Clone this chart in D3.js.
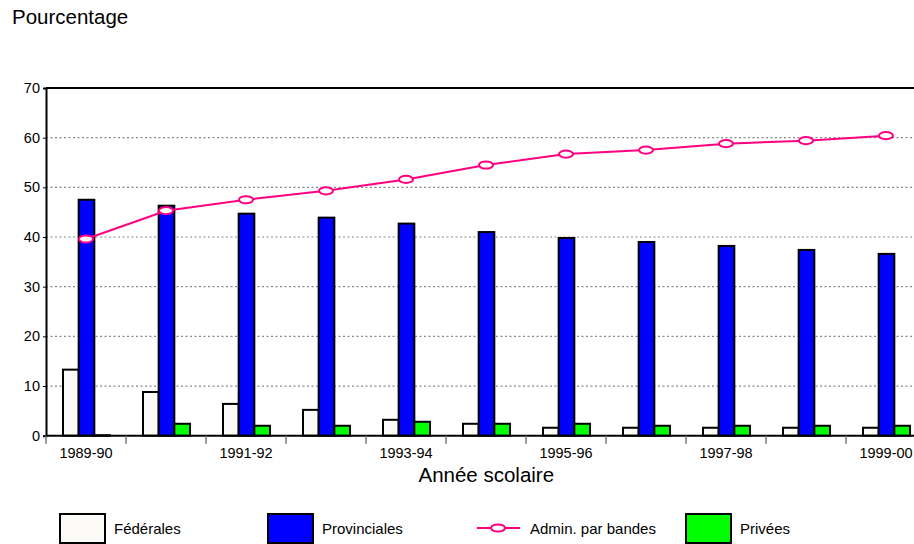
<!DOCTYPE html>
<html><head><meta charset="utf-8">
<script src="https://cdn.jsdelivr.net/npm/d3@7"></script>
<style>body{margin:0;background:#fff}svg{display:block;font-family:"Liberation Sans",Arial,sans-serif}</style>
</head><body><svg id="c" width="914" height="544"></svg>
<script>
const categories = ["1989-90","1990-91","1991-92","1992-93","1993-94","1994-95","1995-96","1996-97","1997-98","1998-99","1999-00"];
const federales = [13.3, 8.8, 6.4, 5.2, 3.2, 2.4, 1.6, 1.6, 1.6, 1.6, 1.6];
const provinciales = [47.5, 46.3, 44.7, 43.9, 42.7, 41.0, 39.8, 39.0, 38.2, 37.4, 36.6];
const privees = [0.1, 2.4, 2.0, 2.0, 2.8, 2.4, 2.4, 2.0, 2.0, 2.0, 2.0];
const admin = [39.6, 45.3, 47.5, 49.3, 51.6, 54.5, 56.7, 57.5, 58.8, 59.4, 60.4];
const yTicks = [0,10,20,30,40,50,60,70];
const seriesNames = ["Fédérales","Provinciales","Admin. par bandes","Privées"];

(function(){
const svg = d3.select("#c");
const mLeft = 46, mTop = 88, mBottom = 435.7, mRight = 926;
const x = d3.scaleBand().domain(categories).range([mLeft, mRight]).padding(0);
const x1 = d3.scaleBand().domain(["f","p","v"]).range([17, 64]).padding(0);
const y = d3.scaleLinear().domain([0,70]).range([mBottom, mTop]);

// gridlines
svg.append("g").selectAll("line").data(yTicks.filter(t=>t>0 && t<70)).join("line")
  .attr("x1", mLeft).attr("x2", 914).attr("y1", d=>y(d)).attr("y2", d=>y(d))
  .attr("stroke","#888").attr("stroke-width",1.2).attr("stroke-dasharray","2,2.5");

// top border
svg.append("line").attr("x1",mLeft).attr("x2",914).attr("y1",y(70)).attr("y2",y(70)).attr("stroke","#000").attr("stroke-width",2);

// y axis
const yAxis = svg.append("g").attr("transform",`translate(${mLeft},0)`)
  .call(d3.axisLeft(y).tickValues(yTicks).tickSize(3).tickPadding(3));
yAxis.select(".domain").attr("stroke","#000").attr("stroke-width",2);
yAxis.selectAll("text").attr("font-size",14.5).attr("fill","#000").attr("font-family","Liberation Sans, Arial, sans-serif");

// bars
const groups = svg.append("g").selectAll("g").data(categories).join("g")
  .attr("transform", d=>`translate(${x(d)},0)`);
const bw = x1.bandwidth();
function bars(key, vals, fill){
  groups.append("rect")
    .attr("x", x1(key)).attr("width", bw)
    .attr("y", (d,i)=>y(vals[i])).attr("height",(d,i)=>mBottom - y(vals[i]))
    .attr("fill", fill).attr("stroke","#000").attr("stroke-width",2);
}
bars("f", federales, "#fcfbf8");
bars("p", provinciales, "#0000ff");
bars("v", privees, "#00ff00");

// x axis
svg.append("line").attr("x1",mLeft).attr("x2",914).attr("y1",mBottom).attr("y2",mBottom).attr("stroke","#000").attr("stroke-width",2);
svg.append("g").selectAll("line").data(categories).join("line")
  .attr("x1", d=>x(d)).attr("x2", d=>x(d)).attr("y1", mBottom).attr("y2", mBottom+8)
  .attr("stroke","#777").attr("stroke-width",1.5);
svg.append("g").selectAll("text").data(categories.filter((d,i)=>i%2===0)).join("text")
  .attr("x", d=>x(d)+x.bandwidth()/2).attr("y", 457.5).attr("text-anchor","middle")
  .attr("font-size",14.5).attr("fill","#000").text(d=>d);

// line
const cx = d => x(d)+x.bandwidth()/2;
svg.append("path").datum(admin)
  .attr("d", d3.line().x((d,i)=>cx(categories[i])).y(d=>y(d)))
  .attr("fill","none").attr("stroke","#ff0080").attr("stroke-width",2);
svg.append("g").selectAll("ellipse").data(admin).join("ellipse")
  .attr("cx",(d,i)=>cx(categories[i])).attr("cy", d=>y(d))
  .attr("rx",7).attr("ry",3.6).attr("fill","#fff").attr("stroke","#ff0080").attr("stroke-width",2);

// titles
svg.append("text").attr("x",12).attr("y",24).attr("font-size",20.5).attr("fill","#000").text("Pourcentage");
svg.append("text").attr("x",486.3).attr("y",482).attr("text-anchor","middle").attr("font-size",20.5).attr("fill","#000").text("Année scolaire");

// legend
const lg = svg.append("g");
const boxes = [{x:60, fill:"#fcfbf8", t:0, tx:114},{x:268, fill:"#0000ff", t:1, tx:322},{x:686, fill:"#00ff00", t:3, tx:740}];
boxes.forEach(b=>{
  lg.append("rect").attr("x",b.x).attr("y",514).attr("width",45).attr("height",29)
    .attr("fill",b.fill).attr("stroke","#000").attr("stroke-width",2);
  lg.append("text").attr("x",b.tx).attr("y",533.5).attr("font-size",15).attr("fill","#000").text(seriesNames[b.t]);
});
lg.append("line").attr("x1",477).attr("x2",520).attr("y1",528).attr("y2",528).attr("stroke","#ff0080").attr("stroke-width",2);
lg.append("ellipse").attr("cx",498).attr("cy",528).attr("rx",7).attr("ry",3.6).attr("fill","#fff").attr("stroke","#ff0080").attr("stroke-width",2);
lg.append("text").attr("x",530).attr("y",533.5).attr("font-size",15).attr("fill","#000").text(seriesNames[2]);
})();
</script></body></html>
